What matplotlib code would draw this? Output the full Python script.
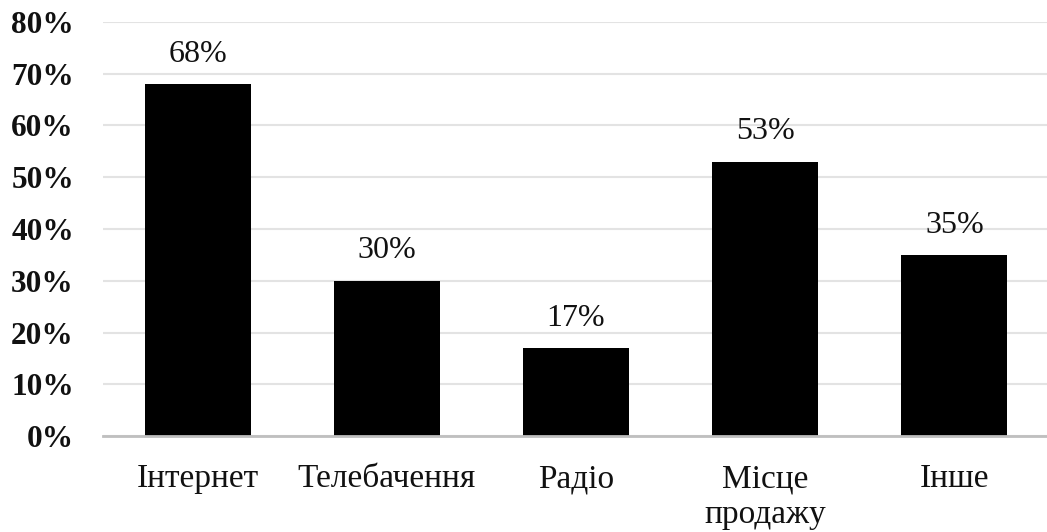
import matplotlib
matplotlib.use("Agg")
import matplotlib.pyplot as plt
from matplotlib.ticker import FuncFormatter

categories = ["Інтернет", "Телебачення", "Радіо", "Місце\nпродажу", "Інше"]
shares = [68, 30, 17, 53, 35]
y_ticks = [0, 10, 20, 30, 40, 50, 60, 70, 80]

plt.rcParams["font.family"] = ["Liberation Serif", "DejaVu Serif"]

fig = plt.figure(figsize=(10.47, 5.32), dpi=100)
ax = fig.add_axes([103 / 1047, 1 - 436 / 532, 946 / 1047, (436 - 22) / 532])

x = list(range(len(categories)))
bars = ax.bar(x, shares, width=0.56, color="black", zorder=3)

for xi, v in zip(x, shares):
    ax.annotate(f"{v}%", (xi, v), xytext=(0, 11), textcoords="offset points",
                ha="center", va="bottom", fontsize=23, color="#111111")

ax.set_xlim(-0.5, len(categories) - 0.5)
ax.set_ylim(0, 80)
ax.set_yticks(y_ticks)
ax.yaxis.set_major_formatter(FuncFormatter(lambda v, _: f"{v:.0f}%"))
ax.set_xticks(x)
ax.set_xticklabels(categories, linespacing=1.22)

ax.tick_params(axis="y", length=0, pad=21, labelsize=22.5, labelcolor="#111111")
ax.tick_params(axis="x", length=0, pad=20, labelsize=24, labelcolor="#111111")
for lbl in ax.get_yticklabels():
    lbl.set_fontweight("bold")
for lbl in ax.get_xticklabels():
    lbl.set_verticalalignment("top")

ax.grid(axis="y", color="#e3e3e3", linewidth=1.5, zorder=0)
for side in ("top", "right", "left"):
    ax.spines[side].set_visible(False)
ax.spines["bottom"].set_color("#bfbfbf")
ax.spines["bottom"].set_linewidth(2)
ax.spines["bottom"].set_zorder(4)

fig.savefig("out.png", dpi=100)
